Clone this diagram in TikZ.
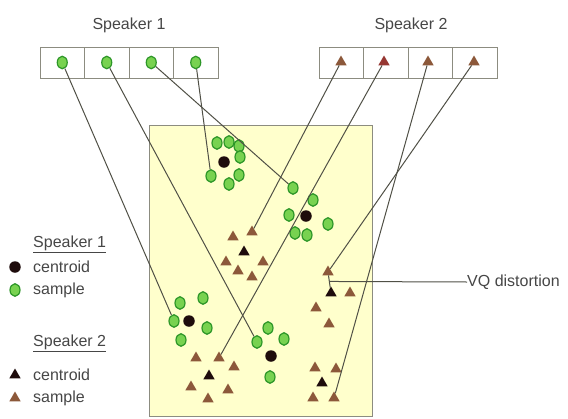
\documentclass[tikz,border=0pt]{standalone}
\usepackage{fontspec}
\setmainfont{Liberation Sans}
\usepackage{xcolor}
\usepackage{tikz}
\usetikzlibrary{positioning,matrix,shapes.geometric}
\definecolor{padyellow}{RGB}{255,255,204}
\definecolor{padedge}{RGB}{140,140,128}
\definecolor{leafgreen}{RGB}{120,210,80}
\definecolor{leafedge}{RGB}{45,150,40}
\definecolor{barkbrown}{RGB}{140,88,58}
\definecolor{barkred}{RGB}{150,55,50}
\definecolor{inkdark}{RGB}{30,12,12}
\definecolor{wiregray}{RGB}{80,80,70}
\definecolor{textgray}{RGB}{70,70,70}
\newcommand{\lblfont}{\fontsize{16}{19}\selectfont}

\begin{document}
\begin{tikzpicture}[
    x=1pt, y=-1pt,
    nosep/.style={inner sep=0},
    codebook/.style={
        matrix of nodes,
        column sep=-\pgflinewidth,
        nodes in empty cells,
        nodes={rectangle, draw=padedge, fill=white, minimum width=44.5pt, minimum height=31pt, nosep}},
    title/.style={text=textgray, font=\lblfont, nosep},
    legend/.style={text=textgray, font=\lblfont, anchor=west, nosep},
    gsample/.style={ellipse, draw=leafedge, fill=leafgreen, line width=1.2pt, minimum width=10pt, minimum height=12.5pt, nosep},
    gcentroid/.style={circle, fill=inkdark, minimum size=11.5pt, nosep},
    tsample/.style={regular polygon, regular polygon sides=3, fill=barkbrown, minimum size=13pt, nosep},
    tcentroid/.style={regular polygon, regular polygon sides=3, fill=inkdark, minimum size=13pt, nosep},
    wire/.style={draw=wiregray, line width=1pt}]
\useasboundingbox (0,0) rectangle (568,418);

% feature space
\path[draw=padedge, fill=padyellow, line width=1pt] (149,125) rectangle (372,416);

% codebooks
\matrix (cbA) [codebook, ampersand replacement=\&] at (129,62.5) { \& \& \& \\ };
\matrix (cbB) [codebook, ampersand replacement=\&] at (408,62.5) { \& \& \& \\ };
\node[title] (ttlA) at (129,25) {Speaker 1};
\node[title] (ttlB) at (411,25) {Speaker 2};

\node[gsample] (cbA1) at (cbA-1-1) {};
\node[gsample] (cbA2) at (cbA-1-2) {};
\node[gsample] (cbA3) at (cbA-1-3) {};
\node[gsample] (cbA4) at (cbA-1-4) {};
\node[tsample] (cbB1) at (341,62) {};
\node[tsample, fill=barkred] (cbB2) at (384,62) {};
\node[tsample] (cbB3) at (428,62) {};
\node[tsample] (cbB4) at (474,62) {};

% speaker 1 clusters
\node[gcentroid] (gc1) at (224,162) {};
\node[gsample] (g11) at (217,143) {};
\node[gsample] (g12) at (229,142) {};
\node[gsample] (g13) at (239,146) {};
\node[gsample] (g14) at (240,157) {};
\node[gsample] (g15) at (211,176) {};
\node[gsample] (g16) at (229,184) {};
\node[gsample] (g17) at (239,175) {};

\node[gcentroid] (gc2) at (306,216) {};
\node[gsample] (g21) at (293,188) {};
\node[gsample] (g22) at (313,200) {};
\node[gsample] (g23) at (289,215) {};
\node[gsample] (g24) at (328,224) {};
\node[gsample] (g25) at (295,233) {};
\node[gsample] (g26) at (307,235) {};

\node[gcentroid] (gc3) at (189,321) {};
\node[gsample] (g31) at (180,303) {};
\node[gsample] (g32) at (203,298) {};
\node[gsample] (g33) at (174,321) {};
\node[gsample] (g34) at (207,328) {};
\node[gsample] (g35) at (181,340) {};

\node[gcentroid] (gc4) at (271,356) {};
\node[gsample] (g41) at (268,328) {};
\node[gsample] (g42) at (284,339) {};
\node[gsample] (g43) at (257,342) {};
\node[gsample] (g44) at (270,377) {};

% speaker 2 clusters
\node[tcentroid] (tc1) at (244,252) {};
\node[tsample] (t11) at (233,237) {};
\node[tsample] (t12) at (252,232) {};
\node[tsample] (t13) at (226,262) {};
\node[tsample] (t14) at (263,262) {};
\node[tsample] (t15) at (238,271) {};
\node[tsample] (t16) at (252,277) {};

\node[tcentroid] (tc2) at (209,376) {};
\node[tsample] (t21) at (196,358) {};
\node[tsample] (t22) at (219,358) {};
\node[tsample] (t23) at (234,367) {};
\node[tsample] (t24) at (191,387) {};
\node[tsample] (t25) at (228,390) {};
\node[tsample] (t26) at (208,399) {};

\node[tcentroid] (tc3) at (331,293) {};
\node[tsample] (t31) at (328,272) {};
\node[tsample] (t32) at (350,293) {};
\node[tsample] (t33) at (316,308) {};
\node[tsample] (t34) at (329,324) {};

\node[tcentroid] (tc4) at (322,383) {};
\node[tsample] (t41) at (315,368) {};
\node[tsample] (t42) at (336,369) {};
\node[tsample] (t43) at (313,398) {};
\node[tsample] (t44) at (334,398) {};

% codebook entries to samples
\path[wire] (cbA1) -- (g33);
\path[wire] (cbA2) -- (g43);
\path[wire] (cbA3) -- (g21);
\path[wire] (cbA4) -- (g15);
\path[wire] (cbB1) -- (t12);
\path[wire] (cbB2) -- (t22);
\path[wire] (cbB3) -- (t44);
\path[wire] (cbB4) -- (t31);

% distortion marker
\path[wire] (t31) -- coordinate[midway] (vqpt) (tc3);
\node[legend] (vq) at (467,282) {VQ distortion};
\path[wire] (vqpt) -- (vq.west);

% legend
\node[legend] (lgA) at (33,244) {\underline{Speaker 1}};
\node[gcentroid] (lgAc) at (15,267) {};
\node[legend] (lgAct) at (33,267) {centroid};
\node[gsample] (lgAs) at (15,290) {};
\node[legend] (lgAst) at (33,290) {sample};
\node[legend] (lgB) at (33,343) {\underline{Speaker 2}};
\node[tcentroid] (lgBc) at (15,375) {};
\node[legend] (lgBct) at (33,375) {centroid};
\node[tsample] (lgBs) at (15,398) {};
\node[legend] (lgBst) at (33,398) {sample};

\end{tikzpicture}
\end{document}
